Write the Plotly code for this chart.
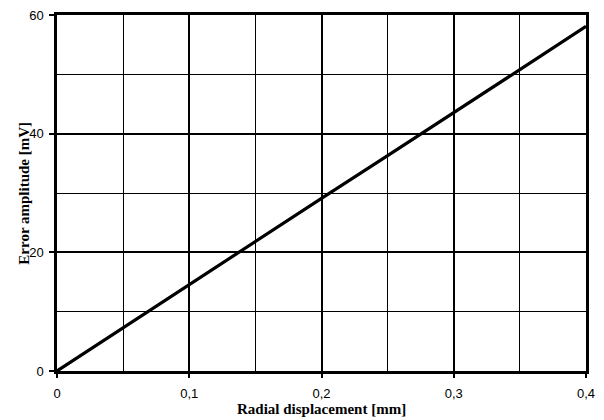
import plotly.graph_objects as go

x_mm = [0, 0.05, 0.1, 0.15, 0.2, 0.25, 0.3, 0.35, 0.4]
err_mv = [0, 7.3, 14.6, 21.9, 29.1, 36.3, 43.5, 50.8, 58.1]

x_ticks = [0, 0.1, 0.2, 0.3, 0.4]
x_labels = ["0", "0,1", "0,2", "0,3", "0,4"]
y_ticks = [0, 20, 40, 60]

fig = go.Figure(go.Scatter(x=x_mm, y=err_mv, mode="lines",
                           line=dict(color="black", width=3.2), showlegend=False))

axis_font = dict(family="Liberation Sans, Arial", size=13, color="black")
title_font = dict(family="Liberation Serif, Times New Roman", size=15, color="black")

fig.update_layout(
    width=604, height=420,
    margin=dict(l=57, r=18, t=15, b=49),
    paper_bgcolor="white", plot_bgcolor="white",
    separators=", ",
    xaxis=dict(range=[0, 0.4], tickvals=x_ticks, ticktext=x_labels, automargin=False,
               showgrid=True, gridcolor="black", gridwidth=2,
               minor=dict(dtick=0.05, tick0=0, showgrid=True, gridcolor="black", gridwidth=1),
               showline=True, linecolor="black", linewidth=2.5, mirror=True,
               ticks="outside", ticklen=4, tickwidth=2, tickcolor="black",
               ticklabelstandoff=5,
               tickfont=axis_font, zeroline=False),
    yaxis=dict(range=[0, 60], tickvals=y_ticks, automargin=False,
               showgrid=True, gridcolor="black", gridwidth=2,
               minor=dict(dtick=10, tick0=0, showgrid=True, gridcolor="black", gridwidth=1),
               showline=True, linecolor="black", linewidth=2.5, mirror=True,
               ticks="outside", ticklen=5, tickwidth=2, tickcolor="black",
               ticklabelstandoff=3,
               tickfont=axis_font, zeroline=False),
    annotations=[
        dict(text="<b>Radial displacement [mm]</b>", font=title_font,
             xref="paper", yref="paper", x=0.5, y=-0.107,
             xanchor="center", yanchor="middle", showarrow=False),
        dict(text="<b>Error amplitude [mV]</b>", font=title_font, textangle=-90,
             xref="paper", yref="paper", x=-0.063, y=0.5,
             xanchor="center", yanchor="middle", showarrow=False),
    ],
)

fig.write_html("out.html")
